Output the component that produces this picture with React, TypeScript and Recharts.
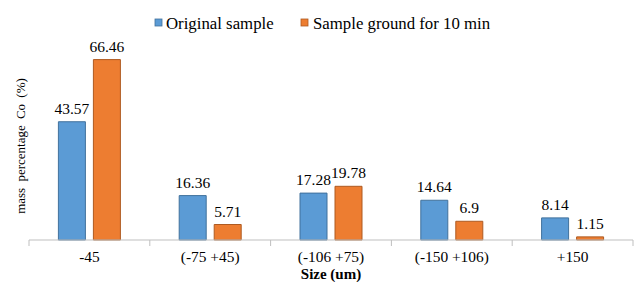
import React from "react";
import { BarChart, Bar, XAxis, YAxis, LabelList, Label } from "recharts";

const categories = ["-45", "(-75 +45)", "(-106 +75)", "(-150 +106)", "+150"];
const originalSample = [43.57, 16.36, 17.28, 14.64, 8.14];
const groundSample = [66.46, 5.71, 19.78, 6.9, 1.15];
const seriesNames = ["Original sample", "Sample ground for 10 min"];
const yDomain = [0, 70];

const data = categories.map((c, i) => ({
  cat: c,
  original: originalSample[i],
  ground: groundSample[i],
}));

const FONT = "Liberation Serif";
const BLUE = "#5B9BD5";
const BLUE_EDGE = "#41719C";
const ORANGE = "#ED7D31";
const ORANGE_EDGE = "#AE5A21";
const AXIS = "#BFBFBF";

const CatTick = (props: any) => {
  const { x, y, payload, index, visibleTicksCount, width } = props;
  const n = visibleTicksCount || categories.length;
  const w = typeof width === "number" && width > 0 ? width : 604;
  const band = w / n;
  return (
    <g>
      <line x1={x - band / 2} x2={x - band / 2} y1={y} y2={y + 6} stroke={AXIS} />
      {index === n - 1 && (
        <line x1={x + band / 2} x2={x + band / 2} y1={y} y2={y + 6} stroke={AXIS} />
      )}
      <text x={x} y={y + 21.5} textAnchor="middle" style={{ fontFamily: FONT, fontSize: 15.4 }} fill="#000">
        {payload.value}
      </text>
    </g>
  );
};

const labelStyle = { fontFamily: FONT, fontSize: 15.5, fill: "#000" };

export default function App() {
  return (
    <div style={{ position: "absolute", left: 0, top: 0, width: 637, height: 282, background: "#fff", fontFamily: FONT }}>
      <BarChart
        width={637}
        height={282}
        data={data}
        margin={{ top: 50, right: 4, left: 29, bottom: 0 }}
        barGap={8}
        barCategoryGap={29.4}
        style={{ fontFamily: FONT }}
      >
        <YAxis hide domain={yDomain} />
        <XAxis
          dataKey="cat"
          height={42}
          stroke={AXIS}
          tickLine={false}
          tickSize={0}
          tickMargin={0}
          tick={<CatTick />}
          interval={0}
        >
          <Label
            value="Size (um)"
            position="insideBottom"
            offset={3.5}
            style={{ fontFamily: FONT, fontSize: 15, fontWeight: "bold", fill: "#000" }}
          />
        </XAxis>
        <Bar dataKey="original" name={seriesNames[0]} fill={BLUE} stroke={BLUE_EDGE} strokeWidth={1} isAnimationActive={false}>
          <LabelList dataKey="original" position="top" offset={8} style={labelStyle} />
        </Bar>
        <Bar dataKey="ground" name={seriesNames[1]} fill={ORANGE} stroke={ORANGE_EDGE} strokeWidth={1} isAnimationActive={false}>
          <LabelList dataKey="ground" position="top" offset={8} style={labelStyle} />
        </Bar>
      </BarChart>
      <svg width={637} height={282} style={{ position: "absolute", left: 0, top: 0, pointerEvents: "none" }}>
        <rect x={155} y={19} width={7} height={7} fill={BLUE} stroke={BLUE_EDGE} strokeWidth={0.8} />
        <text x={166} y={28.5} style={{ fontFamily: FONT, fontSize: 16.8 }} fill="#000">{seriesNames[0]}</text>
        <rect x={301} y={19} width={7} height={7} fill={ORANGE} stroke={ORANGE_EDGE} strokeWidth={0.8} />
        <text x={313} y={28.5} style={{ fontFamily: FONT, fontSize: 16.8 }} fill="#000">{seriesNames[1]}</text>
        <text
          x={0}
          y={0}
          transform="translate(25,146) rotate(-90)"
          textAnchor="middle"
          style={{ fontFamily: FONT, fontSize: 13, wordSpacing: 3 }}
          fill="#000"
        >
          mass percentage Co (%)
        </text>
      </svg>
    </div>
  );
}
